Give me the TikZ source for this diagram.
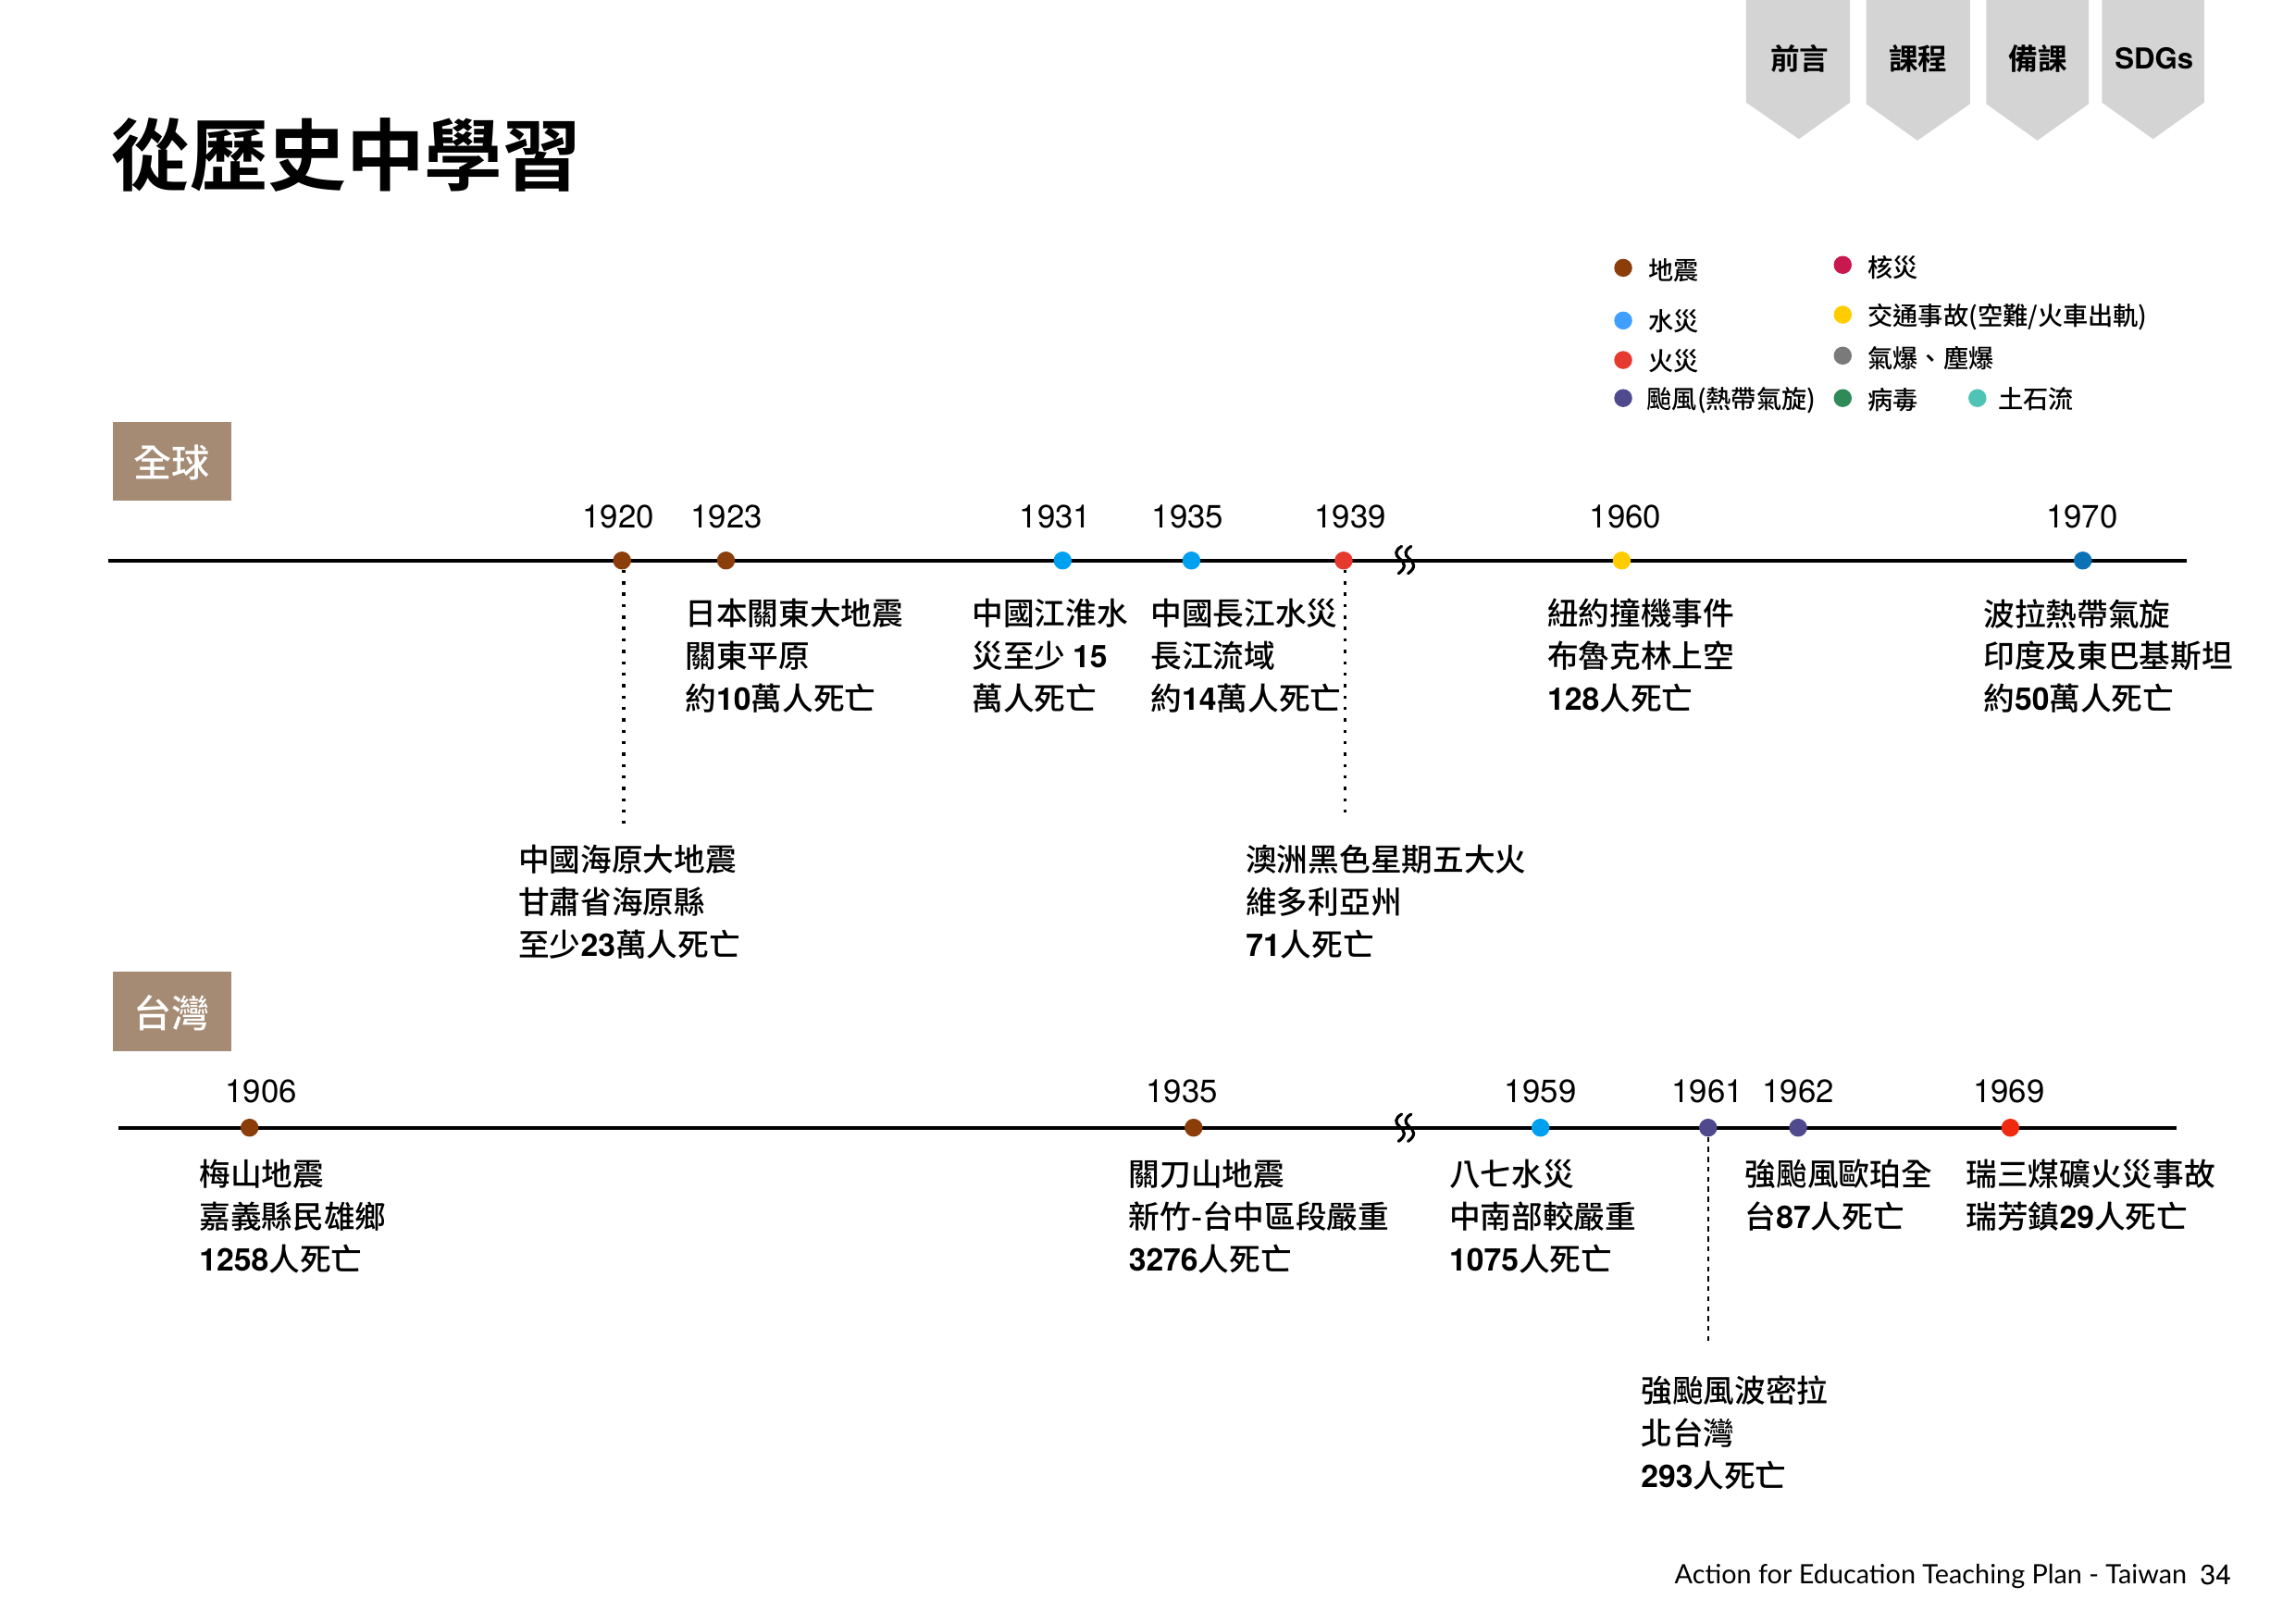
\documentclass[tikz,border=0pt]{standalone}
\usepackage{fontspec}
\setmainfont{Noto Sans CJK TC}[UprightFont=* Medium,BoldFont=* Bold]
\newfontfamily\hv{TeX Gyre Heros}
\newfontfamily\hvb{TeX Gyre Heros Bold}
\newfontfamily\foot{Lato}
\newcommand{\num}[1]{{\hvb #1}}
\definecolor{qBrown}{HTML}{8B3E0A}
\definecolor{qBlue}{HTML}{3F9FFF}
\definecolor{qBlueB}{HTML}{00A0F0}
\definecolor{qBlueD}{HTML}{0B72B5}
\definecolor{qRed}{HTML}{E63A2E}
\definecolor{qRedB}{HTML}{F02A10}
\definecolor{qPurple}{HTML}{4F4A8E}
\definecolor{qCrimson}{HTML}{C9184F}
\definecolor{qYellow}{HTML}{FFCC00}
\definecolor{qGray}{HTML}{7A7A7A}
\definecolor{qGreen}{HTML}{2E8B57}
\definecolor{qTeal}{HTML}{4FC4B4}
\definecolor{qTan}{HTML}{A58B73}
\definecolor{qTab}{HTML}{D4D4D4}
\tikzset{
  dot/.style={circle,fill=#1,draw=none,minimum size=12.3pt,inner sep=0pt},
  ldot/.style={circle,fill=#1,draw=none,minimum size=12.3pt,inner sep=0pt},
  axisline/.style={line width=2.7pt,black},
  body/.style={anchor=north west,inner sep=0pt,align=left,font=\fontsize{21.3}{29}\selectfont},
  year/.style={inner sep=0pt,font=\hv\fontsize{22}{25}\selectfont},
  legend/.style={anchor=west,inner sep=0pt,font=\fontsize{17.2}{20}\selectfont},
  region/.style={fill=qTan,inner sep=0pt,minimum width=81pt,minimum height=54pt},
  regiontext/.style={text=white,inner sep=0pt,font=\fontsize{26}{30}\selectfont},
  tabtext/.style={inner sep=0pt,font=\bfseries\fontsize{20}{24}\selectfont},
  tabshape/.style={fill=qTab,draw=none},
  brk/.style={line width=2pt,black,line cap=round},
  dotline/.style={line width=2.2pt,black,dash pattern=on 2.2pt off 5.6pt},
  dashline/.style={line width=1.1pt,black,dash pattern=on 3.4pt off 3.4pt}
}
\begin{document}
\begin{tikzpicture}[x=1pt,y=-1pt]
\useasboundingbox (0,0) rectangle (1568,1109.6);
\fill[white] (0,0) rectangle (1568,1109.6);
% tabs
\fill[tabshape] (1193,0)--(1264,0)--(1264,70)--(1229,95)--(1193,70)--cycle;
\fill[tabshape] (1275,0)--(1346,0)--(1346,71)--(1310,96)--(1275,71)--cycle;
\fill[tabshape] (1357,0)--(1427,0)--(1427,71)--(1392,96)--(1357,71)--cycle;
\fill[tabshape] (1436,0)--(1506,0)--(1506,70)--(1471,95)--(1436,70)--cycle;
\node[tabtext] (t1) at (1229.5,40) {前言};
\node[tabtext] (t2) at (1310.5,40) {課程};
\node[tabtext] (t3) at (1392.5,40) {備課};
\node[tabtext] (t4) at (1471.8,40) {\fontsize{19.7}{24}\selectfont\num{SDGs}};
% title
\node[anchor=west,inner sep=0pt,font=\bfseries\fontsize{53.5}{60}\selectfont] (title) at (76,106) {從歷史中學習};
% legend
\node[ldot=qBrown] (l1) at (1109,183) {};
\node[legend] (lt1) at (1126,184.5) {地震};
\node[ldot=qBlue] (l2) at (1109,219) {};
\node[legend] (lt2) at (1126,219.5) {水災};
\node[ldot=qRed] (l3) at (1109,246) {};
\node[legend] (lt3) at (1126,246.5) {火災};
\node[ldot=qPurple] (l4) at (1109,272) {};
\node[legend] (lt4) at (1125,273.5) {颱風(熱帶氣旋)};
\node[ldot=qCrimson] (l5) at (1259,181) {};
\node[legend] (lt5) at (1276,182.5) {核災};
\node[ldot=qYellow] (l6) at (1259,215) {};
\node[legend] (lt6) at (1276,216.5) {交通事故(空難/火車出軌)};
\node[ldot=qGray] (l7) at (1259,243) {};
\node[legend] (lt7) at (1276,244.5) {氣爆、塵爆};
\node[ldot=qGreen] (l8) at (1259,272) {};
\node[legend] (lt8) at (1276,273.5) {病毒};
\node[ldot=qTeal] (l9) at (1351,272) {};
\node[legend] (lt9) at (1365,272.5) {土石流};
% regions
\node[region] (r1) at (117.5,315) {};
\node[regiontext] (r1t) at (117.5,316) {全球};
\node[region] (r2) at (117.5,691) {};
\node[regiontext] (r2t) at (117.5,692) {台灣};
% global timeline
\coordinate (ga) at (74,383);
\coordinate (gb) at (1494,383);
\draw[axisline] (ga)--(gb);
\node[dot=qBrown] (g1920) at (425,383) {};
\node[dot=qBrown] (g1923) at (496,383) {};
\node[dot=qBlueB] (g1931) at (726,383) {};
\node[dot=qBlueB] (g1935) at (814,383) {};
\node[dot=qRed] (g1939) at (918,383) {};
\node[dot=qYellow] (g1960) at (1108,383) {};
\node[dot=qBlueD] (g1970) at (1423,383) {};
\coordinate (ge1) at (426,563);
\coordinate (ge2) at (919,559);
\draw[dotline] (g1920.south -| ge1) -- (ge1);
\draw[dotline] (g1939.south -| ge2) -- (ge2);
\node[year] (y1) at (422.5,353) {1920};
\node[year] (y2) at (496.5,353) {1923};
\node[year] (y3) at (721,353) {1931};
\node[year] (y4) at (811.5,353) {1935};
\node[year] (y5) at (922.5,353) {1939};
\node[year] (y6) at (1110.5,353) {1960};
\node[year] (y7) at (1422.5,353) {1970};
\node[body] (a1) at (468,409) {日本關東大地震\\關東平原\\約\num{10}萬人死亡};
\node[body] (a2) at (664,409) {中國江淮水\\災至少 \num{15}\\萬人死亡};
\node[body] (a3) at (786,409) {中國長江水災\\長江流域\\約\num{14}萬人死亡};
\node[body] (a4) at (1057,409) {紐約撞機事件\\布魯克林上空\\\num{128}人死亡};
\node[body] (a5) at (1355,409) {波拉熱帶氣旋\\印度及東巴基斯坦\\約\num{50}萬人死亡};
\node[body] (a6) at (354,577) {中國海原大地震\\甘肅省海原縣\\至少\num{23}萬人死亡};
\node[body] (a7) at (851,577) {澳洲黑色星期五大火\\維多利亞州\\\num{71}人死亡};
% break marks
\draw[brk] (957.6,373.3) .. controls (953,376) and (953,379) .. (956,381.5) .. controls (960,384.5) and (961,388) .. (955.5,391.8);
\draw[brk] (964.1,373.3) .. controls (959.5,376) and (959.5,379) .. (962.5,381.5) .. controls (966.5,384.5) and (967.5,388) .. (962,391.8);
% taiwan timeline
\coordinate (ta) at (81,770.5);
\coordinate (tb) at (1487,770.5);
\draw[axisline] (ta)--(tb);
\node[dot=qBrown] (t1906) at (170.5,770.5) {};
\node[dot=qBrown] (t1935) at (815.5,770.5) {};
\node[dot=qBlueB] (t1959) at (1052.5,770.5) {};
\node[dot=qPurple] (t1961) at (1167,770.5) {};
\node[dot=qPurple] (t1962) at (1228.5,770.5) {};
\node[dot=qRedB] (t1969) at (1373.5,770.5) {};
\coordinate (te) at (1167,917);
\draw[dashline] (t1961.south) -- (te);
\node[year] (z1) at (178.5,746) {1906};
\node[year] (z2) at (807.5,746) {1935};
\node[year] (z3) at (1052.5,746) {1959};
\node[year] (z4) at (1166.5,746) {1961};
\node[year] (z5) at (1228.5,746) {1962};
\node[year] (z6) at (1372.5,746) {1969};
\node[body] (b1) at (136,792) {梅山地震\\嘉義縣民雄鄉\\\num{1258}人死亡};
\node[body] (b2) at (771,792) {關刀山地震\\新竹-台中區段嚴重\\\num{3276}人死亡};
\node[body] (b3) at (990,792) {八七水災\\中南部較嚴重\\\num{1075}人死亡};
\node[body] (b4) at (1192,792) {強颱風歐珀全\\台\num{87}人死亡};
\node[body] (b5) at (1343,792) {瑞三煤礦火災事故\\瑞芳鎮\num{29}人死亡};
\node[body] (b6) at (1121,940) {強颱風波密拉\\北台灣\\\num{293}人死亡};
\draw[brk] (957.6,761.3) .. controls (953,764) and (953,767) .. (956,769.5) .. controls (960,772.5) and (961,776) .. (955.5,779.8);
\draw[brk] (964.1,761.3) .. controls (959.5,764) and (959.5,767) .. (962.5,769.5) .. controls (966.5,772.5) and (967.5,776) .. (962,779.8);
% footer
\node[anchor=west,inner sep=0pt,font=\foot\fontsize{18.2}{20}\selectfont] (f1) at (1144,1077) {Action for Education Teaching Plan - Taiwan};
\node[anchor=west,inner sep=0pt,font=\hv\fontsize{19}{22}\selectfont] (f2) at (1503,1076) {34};
\end{tikzpicture}
\end{document}
